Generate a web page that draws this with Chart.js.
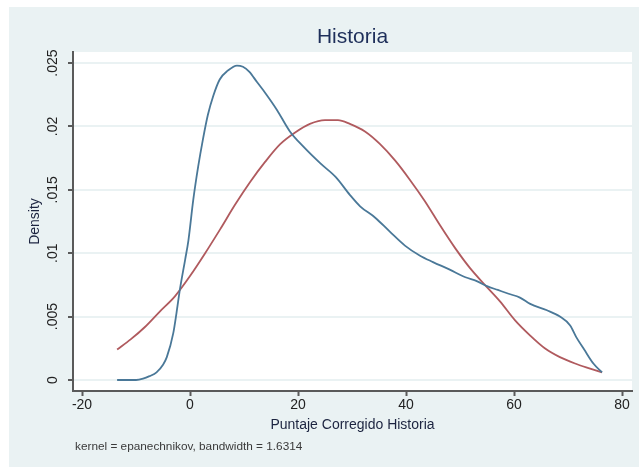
<!DOCTYPE html>
<html>
<head>
<meta charset="utf-8">
<script src="https://cdn.jsdelivr.net/npm/chart.js@4.4.0/dist/chart.umd.min.js"></script>
<style>
  html, body { margin: 0; padding: 0; background: #ffffff; }
  #wrap { width: 639px; height: 467px; }
</style>
</head>
<body>
<div id="wrap"><canvas id="myChartKde" width="639" height="467"></canvas></div>
<script>
// kernel density (blue)
const kdeX = [-13.5, -10, -8.7, -7.5, -6.2, -5, -4.3, -3.1, -2.5, -1.85, -0.9, -0.3, 0.6, 1.5, 2.4, 3.3, 4.3, 5.5, 7, 8.7, 9.8, 11, 12.4, 14, 16.1, 18.5, 21, 24.1, 27, 29.6, 31.5, 34.3, 37, 39.8, 42.6, 45, 48.1, 51, 53.1, 55, 57, 59, 61.1, 63, 66.1, 68.5, 70.4, 71.5, 73, 74.7, 76.3];
const kdeY = [0, 0, 0.0001, 0.0003, 0.0006, 0.0012, 0.0018, 0.0037, 0.0053, 0.0072, 0.0095, 0.011, 0.0142, 0.0168, 0.019, 0.0209, 0.0224, 0.0237, 0.0244, 0.0248, 0.0247, 0.0243, 0.0235, 0.0226, 0.0213, 0.0196, 0.0184, 0.0171, 0.016, 0.0146, 0.0137, 0.0128, 0.0117, 0.0106, 0.0098, 0.0093, 0.0087, 0.0081, 0.0078, 0.0074, 0.0071, 0.0068, 0.0065, 0.006, 0.0055, 0.005, 0.0043, 0.0034, 0.0024, 0.0013, 0.0006];

// normal density (red)
const normX = [-13.5, -11, -8.3, -5.6, -2.8, 0, 2.8, 5.6, 8.3, 11.1, 13.9, 16.7, 19.4, 22.2, 25, 27.4, 29.6, 32.4, 35.2, 38, 40.7, 43.5, 46.3, 49.1, 51.9, 54.6, 57.4, 60.2, 63, 65.7, 68.5, 71.3, 74.1, 76.3];
const normY = [0.0024, 0.0032, 0.0042, 0.0054, 0.0066, 0.0082, 0.01, 0.0119, 0.0138, 0.0156, 0.0172, 0.0186, 0.0195, 0.0202, 0.0205, 0.0205, 0.0202, 0.0196, 0.0186, 0.0173, 0.0158, 0.0141, 0.0122, 0.0104, 0.0088, 0.0075, 0.0062, 0.0047, 0.0035, 0.0025, 0.0018, 0.0013, 0.0009, 0.0006];

const yTickLabels = {0: "0", 0.005: ".005", 0.01: ".01", 0.015: ".015", 0.02: ".02", 0.025: ".025"};
const noteText = "kernel = epanechnikov, bandwidth = 1.6314";

const fontFam = "'Liberation Sans', Arial, Helvetica, sans-serif";
const panelColor = "#eaf2f3";

const toPoints = (xs, ys) => xs.map((x, i) => ({x: x, y: ys[i]}));

const panelPlugin = {
  id: 'panel',
  beforeDraw(chart) {
    const ctx = chart.ctx;
    const a = chart.chartArea;
    ctx.save();
    ctx.fillStyle = "#ffffff";
    ctx.fillRect(0, 0, chart.width, chart.height);
    ctx.fillStyle = panelColor;
    ctx.fillRect(9, 7, chart.width - 9, chart.height - 7);
    ctx.fillStyle = "#ffffff";
    ctx.fillRect(a.left, a.top, a.right - a.left, a.bottom - a.top);
    ctx.restore();
  },
  afterDraw(chart) {
    const ctx = chart.ctx;
    ctx.save();
    ctx.fillStyle = "#3a3a3a";
    ctx.font = "11.8px " + fontFam;
    ctx.textBaseline = "middle";
    ctx.textAlign = "left";
    ctx.fillText(noteText, 75, 447);
    ctx.restore();
  }
};

const ctx1 = document.getElementById("myChartKde").getContext("2d");
new Chart(ctx1, {
  type: 'line',
  plugins: [panelPlugin],
  data: {
    datasets: [{
      label: 'kdensity',
      data: toPoints(kdeX, kdeY),
      borderColor: "#4a7898",
      borderWidth: 1.8,
      pointRadius: 0,
      cubicInterpolationMode: 'monotone',
      fill: false,
    }, {
      label: 'normal',
      data: toPoints(normX, normY),
      borderColor: "#b05a5e",
      borderWidth: 1.8,
      pointRadius: 0,
      cubicInterpolationMode: 'monotone',
      fill: false,
    }]
  },
  options: {
    responsive: false,
    animation: false,
    layout: { padding: { top: 24, left: 9, right: 7, bottom: 26 } },
    plugins: {
      legend: { display: false },
      tooltip: { enabled: false },
      title: {
        display: true,
        text: 'Historia',
        fullSize: false,
        color: "#1e2f5a",
        font: { family: fontFam, size: 21, weight: 'normal' },
        padding: { top: 1, bottom: 1.8 }
      }
    },
    scales: {
      x: {
        type: 'linear',
        min: -21.67,
        max: 81.85,
        afterFit(scale) { scale.height = 50; },
        border: { color: "#5a5a5a", width: 2 },
        grid: { drawOnChartArea: false, drawTicks: true, tickLength: 5, tickColor: "#5a5a5a", tickWidth: 2 },
        ticks: {
          stepSize: 20,
          includeBounds: false,
          maxRotation: 0,
          padding: 1,
          color: "#222222",
          font: { family: fontFam, size: 14 }
        },
        title: {
          display: true,
          text: 'Puntaje Corregido Historia',
          color: "#1c2440",
          font: { family: fontFam, size: 14 },
          padding: { top: 0, bottom: 7.6 }
        }
      },
      y: {
        type: 'linear',
        min: -0.000868,
        max: 0.025868,
        afterFit(scale) { scale.width = 64; },
        border: { color: "#5a5a5a", width: 2 },
        grid: { color: panelColor, lineWidth: 2, drawTicks: true, tickLength: 5, tickColor: "#5a5a5a", tickWidth: 2 },
        ticks: {
          stepSize: 0.005,
          includeBounds: false,
          minRotation: 90,
          maxRotation: 90,
          crossAlign: 'center',
          padding: 1,
          color: "#222222",
          font: { family: fontFam, size: 14 },
          callback: (v) => yTickLabels[Math.round(v * 1000) / 1000] ?? ""
        },
        title: {
          display: true,
          text: 'Density',
          color: "#1c2440",
          font: { family: fontFam, size: 14 },
          padding: { top: 17.6, bottom: 0 }
        }
      }
    }
  }
});
</script>
</body>
</html>
